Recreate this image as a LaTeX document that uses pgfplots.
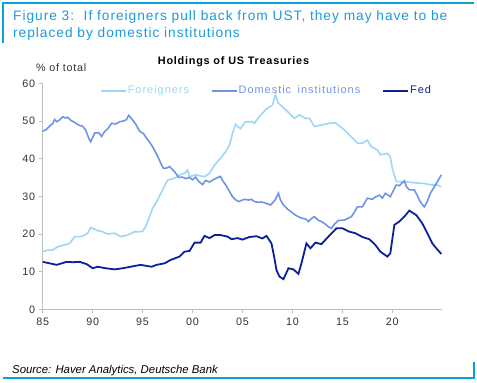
\documentclass[border=0pt]{standalone}
\usepackage{pgfplots}
\pgfplotsset{compat=1.18}
\usepackage{fontspec}
\setmainfont{Liberation Sans}[LetterSpace=7]
\newfontfamily\srcfont{Liberation Sans}
\newfontfamily\legfont{Liberation Sans}[LetterSpace=9,WordSpace=1.6]
\definecolor{foreign}{HTML}{9BD7F7}
\definecolor{domestic}{HTML}{6F93E6}
\definecolor{fed}{HTML}{0B2296}
\definecolor{dbblue}{HTML}{1A9BDB}
\definecolor{framecol}{HTML}{0AA0DC}
\definecolor{axgray}{HTML}{BFBFBF}
\definecolor{tickcol}{HTML}{333333}

\pgfplotstableread{
x y
1985.0 47.3
1985.3 47.6
1985.6 48.4
1986.0 49.3
1986.2 50.4
1986.4 49.8
1986.7 50.3
1987.0 51.1
1987.3 50.8
1987.5 51.0
1987.8 50.2
1988.2 49.6
1988.6 48.9
1989.0 48.6
1989.3 47.6
1989.6 45.5
1989.8 44.5
1990.0 45.6
1990.2 46.8
1990.6 46.9
1990.9 45.9
1991.2 47.2
1991.5 47.9
1991.9 49.4
1992.3 49.2
1992.7 49.8
1993.1 50.0
1993.4 50.4
1993.6 51.5
1993.9 50.6
1994.3 49.2
1994.7 47.3
1995.1 46.6
1995.4 45.4
1995.8 44.0
1996.1 42.7
1996.4 41.2
1996.6 40.1
1996.9 38.3
1997.1 37.4
1997.4 37.5
1997.7 37.9
1998.0 37.1
1998.3 36.2
1998.6 35.0
1999.0 35.1
1999.3 34.7
1999.7 35.0
2000.0 34.4
2000.3 35.1
2000.6 34.0
2001.0 33.1
2001.3 34.2
2001.7 33.8
2002.2 34.6
2002.8 35.3
2003.0 34.2
2003.3 33.1
2003.7 31.3
2004.0 29.9
2004.3 29.1
2004.6 28.6
2005.2 29.2
2005.6 29.0
2005.9 29.2
2006.2 28.6
2006.6 28.4
2006.9 28.5
2007.3 28.2
2007.8 27.7
2008.1 28.5
2008.3 29.2
2008.6 30.8
2008.8 29.0
2009.1 27.7
2009.6 26.4
2010.0 25.6
2010.3 25.0
2010.9 24.2
2011.3 24.0
2011.6 23.3
2012.0 24.3
2012.2 24.6
2012.6 23.6
2012.9 23.3
2013.3 22.6
2013.6 21.9
2013.9 21.5
2014.2 22.6
2014.6 23.6
2015.2 23.7
2015.6 24.2
2015.9 24.6
2016.2 25.8
2016.5 27.2
2017.0 27.2
2017.5 29.5
2018.0 29.2
2018.3 29.8
2018.7 30.3
2019.0 29.5
2019.3 30.8
2019.8 29.9
2020.1 31.5
2020.4 33.0
2020.7 32.8
2021.0 33.6
2021.2 34.1
2021.4 32.6
2021.7 31.7
2022.2 31.7
2022.5 30.2
2022.7 29.0
2023.0 27.8
2023.2 27.2
2023.5 28.6
2023.8 30.8
2024.2 32.5
2024.6 34.3
2024.9 35.7
}\domestictable

\pgfplotstableread{
x y
1985.0 15.3
1985.5 15.7
1986.0 15.7
1986.5 16.6
1987.2 17.1
1987.7 17.5
1988.2 19.3
1988.8 19.3
1989.2 19.7
1989.5 20.2
1989.8 21.7
1990.5 20.9
1991.0 20.6
1991.5 20.0
1992.2 20.2
1992.8 19.3
1993.5 19.7
1994.2 20.6
1994.7 20.6
1995.0 20.7
1995.3 21.9
1995.7 24.6
1996.0 26.8
1996.5 29.0
1997.0 31.7
1997.5 34.3
1998.2 34.8
1998.7 35.7
1999.2 36.1
1999.5 37.0
1999.7 35.2
2000.3 35.7
2001.2 35.2
2001.7 36.1
2002.2 38.3
2002.8 40.1
2003.3 41.8
2003.7 43.6
2004.0 46.7
2004.3 49.1
2004.6 48.3
2004.8 48.0
2005.3 49.8
2006.0 49.8
2006.2 49.4
2006.8 51.6
2007.5 53.4
2008.0 54.2
2008.3 56.9
2008.6 54.7
2009.0 53.8
2009.5 52.5
2010.2 50.7
2010.7 51.6
2011.3 50.7
2011.7 50.7
2012.2 48.5
2012.8 48.9
2013.7 49.4
2014.3 49.5
2014.8 48.5
2015.2 47.6
2015.9 45.8
2016.5 44.1
2017.0 44.1
2017.5 44.9
2017.9 43.2
2018.5 42.3
2018.8 41.0
2019.5 41.4
2019.8 40.5
2020.0 37.4
2020.4 33.9
2021.2 33.9
2022.2 33.6
2023.2 33.4
2024.0 33.0
2024.5 33.0
2024.9 32.5
}\foreigntable

\pgfplotstableread{
x y
1985.0 12.6
1985.7 12.2
1986.4 11.8
1986.9 12.2
1987.4 12.6
1988.0 12.5
1988.7 12.6
1989.4 12.0
1990.0 10.9
1990.5 11.3
1991.3 10.9
1992.2 10.6
1993.0 10.9
1993.8 11.3
1994.8 11.8
1995.9 11.3
1996.4 11.8
1997.2 12.2
1997.8 13.1
1998.7 14.0
1999.2 15.3
1999.7 15.5
2000.2 17.7
2000.8 17.7
2001.2 19.5
2001.7 18.9
2002.2 19.7
2002.8 19.7
2003.5 19.3
2003.9 18.6
2004.5 18.9
2005.0 18.5
2005.7 19.2
2006.4 19.4
2007.0 18.8
2007.4 19.5
2007.9 17.5
2008.2 13.5
2008.4 10.4
2008.7 8.7
2009.1 8.0
2009.6 10.9
2010.1 10.6
2010.6 9.4
2010.9 12.2
2011.4 17.5
2011.8 16.2
2012.3 17.7
2012.9 17.3
2013.6 19.3
2014.4 21.5
2015.0 21.5
2015.7 20.6
2016.3 20.2
2017.0 19.2
2017.7 18.6
2018.3 17.1
2018.8 15.3
2019.5 14.0
2019.8 14.9
2020.2 22.4
2020.7 23.3
2021.2 24.6
2021.7 26.2
2022.4 25.0
2023.0 22.8
2023.5 20.2
2024.0 17.5
2024.4 16.2
2024.9 14.7
}\fedtable

\begin{document}
\begin{tikzpicture}
\useasboundingbox (0bp,0bp) rectangle (477bp,383bp);
% frame
\draw[framecol, line width=2bp] (3bp,340bp) -- (3bp,380bp) -- (474bp,380bp);
\draw[framecol, line width=2bp] (3bp,5.3bp) -- (474bp,5.3bp) -- (474bp,21bp);
% titles
\node[anchor=base west, inner sep=0pt, text=dbblue, font=\fontsize{13.8}{16}\selectfont] at (13bp,362bp) {Figure 3:\ \ If foreigners pull back from UST, they may have to be};
\node[anchor=base west, inner sep=0pt, text=dbblue, font=\fontsize{13.8}{16}\selectfont] at (13bp,345.3bp) {replaced by domestic institutions};
\node[anchor=base, inner sep=0pt, font=\fontsize{10.9}{13}\selectfont\bfseries] at (233.5bp,318.7bp) {Holdings of US Treasuries};
\node[anchor=base west, inner sep=0pt, text=tickcol, font=\fontsize{10.8}{12}\selectfont] at (36bp,311bp) {\% of total};
\node[anchor=base west, inner sep=0pt, font=\srcfont\fontsize{11.4}{13}\selectfont\itshape] at (12bp,10bp) {Source: Haver Analytics, Deutsche Bank};
\begin{axis}[
  at={(42.7bp,73.7bp)}, anchor=south west,
  scale only axis, width=399.6bp, height=226bp,
  xmin=1985, xmax=2025, ymin=0, ymax=60,
  axis x line*=bottom, axis y line*=left,
  axis line style={axgray, line width=0.8bp},
  tick style={axgray, line width=0.8bp},
  tick align=outside, major tick length=4bp,
  xtick={1985,1990,...,2020},
  xticklabels={85,90,95,00,05,10,15,20},
  ytick={0,10,...,60},
  /pgf/number format/assume math mode=true,
  ticklabel style={font=\fontsize{10.8}{12}\selectfont, text=tickcol},
  xticklabel style={yshift=-1bp},
  legend columns=3,
  legend style={at={(0.1434,0.967)}, anchor=west, draw=none, fill=none,
    inner sep=0pt, font=\legfont\fontsize{11}{13}\selectfont,
    nodes={inner sep=1bp},
    /tikz/every even column/.append style={column sep=21bp}},
  legend cell align=left,
  legend image code/.code={\draw[#1] (0bp,0bp) -- (25bp,0bp);},
  clip=false,
]
\addplot[foreign, line width=1.6bp] table[x=x,y=y] {\foreigntable};
\addlegendentry[text=foreign]{Foreigners}
\addplot[domestic, line width=1.6bp] table[x=x,y=y] {\domestictable};
\addlegendentry[text=domestic]{Domestic institutions}
\addplot[fed, line width=1.8bp] table[x=x,y=y] {\fedtable};
\addlegendentry[text=fed]{Fed}
\end{axis}
\end{tikzpicture}
\end{document}
